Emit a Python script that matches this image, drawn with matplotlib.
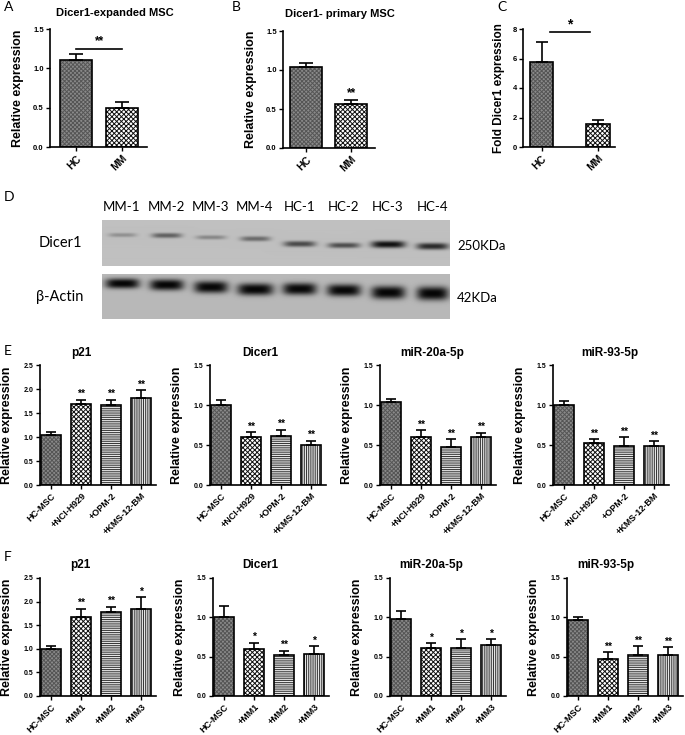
import numpy as np
import matplotlib
matplotlib.use('agg')
from matplotlib import pyplot as plt

W, H = 685, 735
DPI = 100

# ---------------- data ----------------
ab_groups = ['HC', 'MM']
a_means = [1.10, 0.50]
a_err = [0.08, 0.075]
b_means = [1.04, 0.56]
b_err = [0.045, 0.05]
c_means = [5.77, 1.59]
c_err = [1.34, 0.27]

lanes = ['MM-1', 'MM-2', 'MM-3', 'MM-4', 'HC-1', 'HC-2', 'HC-3', 'HC-4']
dicer1_band = [0.25, 0.50, 0.30, 0.45, 0.62, 0.60, 0.92, 0.78]
actin_band = [0.97, 0.97, 0.96, 0.97, 0.96, 0.96, 0.97, 0.97]

e_groups = ['HC-MSC', '+NCI-H929', '+OPM-2', '+KMS-12-BM']
e_p21 = [1.05, 1.68, 1.66, 1.82]
e_p21_err = [0.06, 0.10, 0.12, 0.16]
e_dicer1 = [1.00, 0.60, 0.61, 0.50]
e_dicer1_err = [0.067, 0.06, 0.08, 0.055]
e_mir20 = [1.04, 0.60, 0.48, 0.60]
e_mir20_err = [0.03, 0.085, 0.09, 0.055]
e_mir93 = [1.00, 0.53, 0.485, 0.49]
e_mir93_err = [0.055, 0.04, 0.115, 0.055]
e_stars = [['', '**', '**', '**'], ['', '**', '**', '**'],
           ['', '**', '**', '**'], ['', '**', '**', '**']]

f_groups = ['HC-MSC', '+MM1', '+MM2', '+MM3']
f_p21 = [1.00, 1.68, 1.77, 1.85]
f_p21_err = [0.065, 0.17, 0.12, 0.24]
f_dicer1 = [1.01, 0.60, 0.52, 0.53]
f_dicer1_err = [0.13, 0.08, 0.055, 0.105]
f_mir20 = [0.98, 0.615, 0.61, 0.65]
f_mir20_err = [0.105, 0.055, 0.11, 0.075]
f_mir93 = [0.97, 0.475, 0.52, 0.525]
f_mir93_err = [0.04, 0.085, 0.11, 0.095]
f_stars = [['', '**', '**', '*'], ['', '*', '**', '*'],
           ['', '*', '*', '*'], ['', '**', '**', '**']]

gene_titles = ['p21', 'Dicer1', 'miR-20a-5p', 'miR-93-5p']

# ---------------- style ----------------
plt.rcParams['font.family'] = ['Liberation Sans', 'DejaVu Sans']
plt.rcParams['hatch.linewidth'] = 0.7
NARROW = ['Liberation Sans Narrow', 'Liberation Sans', 'DejaVu Sans']
PLAIN = ['Lato', 'DejaVu Sans']

STYLES = {
    'hc': dict(face='#8a8a8a', hatch='xxxxxxxx', hc='#555555'),
    'check': dict(face='white', hatch='xxxxxxx', hc='#111111'),
    'hline': dict(face='white', hatch='---------', hc='#333333'),
    'vline': dict(face='white', hatch='|||||||||', hc='#333333'),
}

fig = plt.figure(figsize=(W / DPI, H / DPI), dpi=DPI)


def px_axes(left, top, width, height):
    return fig.add_axes([left / W, 1 - (top + height) / H, width / W, height / H])


def draw_bars(ax, means, errs, styles, width, capsize):
    x = np.arange(len(means))
    for xi, m, st in zip(x, means, styles):
        s = STYLES[st]
        ax.bar(xi, m, width, color=s['face'], edgecolor=s['hc'], hatch=s['hatch'],
               linewidth=0, zorder=2)
    ax.bar(x, means, width, fill=False, edgecolor='black', linewidth=1.2, zorder=3)
    ax.errorbar(x, means, yerr=[np.zeros(len(errs)), errs], fmt='none', ecolor='black',
                elinewidth=1.2, capsize=capsize, capthick=1.2, zorder=4)


def style_axes(ax, ylim, yticks, fmt, labels, ytick_fs, xtick_fs, ylabel, ylabel_fs, ylabel_x):
    for side in ['top', 'right']:
        ax.spines[side].set_visible(False)
    for side in ['left', 'bottom']:
        ax.spines[side].set_linewidth(1.2)
    ax.set_ylim(*ylim)
    ax.set_yticks(yticks)
    ax.set_yticklabels([fmt % t for t in yticks], fontsize=ytick_fs, fontweight='bold')
    ax.set_xticks(np.arange(len(labels)))
    ax.set_xticklabels(labels, rotation=45, ha='right', rotation_mode='anchor',
                       fontsize=xtick_fs, fontweight='bold')
    ax.tick_params(axis='both', length=3, width=1, pad=1.5)
    ax.set_ylabel(ylabel, fontsize=ylabel_fs, fontweight='bold')
    ax.yaxis.set_label_coords(ylabel_x, 0.5)


def add_stars(ax, means, errs, stars, fs, off):
    for i, (m, e, s) in enumerate(zip(means, errs, stars)):
        if s:
            ax.text(i, m + e + off, s, ha='center', va='bottom', fontsize=fs,
                    fontweight='bold', clip_on=False)


# ---------------- row A-C ----------------
ax = px_axes(50, 29, 97, 118)
draw_bars(ax, a_means, a_err, ['hc', 'check'], 0.69, 5)
ax.set_xlim(-0.56, 1.53)
style_axes(ax, (0, 1.5), [0, 0.5, 1.0, 1.5], '%.1f', ab_groups, 5.5, 7.5,
           'Relative expression', 9, -0.27)
ax.plot([0, 1], [1.25, 1.25], color='black', lw=1.2)
ax.text(0.5, 1.27, '**', ha='center', va='bottom', fontsize=8.5, fontweight='bold')

ax = px_axes(283, 31, 92, 117)
draw_bars(ax, b_means, b_err, ['hc', 'check'], 0.71, 5)
ax.set_xlim(-0.51, 1.53)
style_axes(ax, (0, 1.5), [0, 0.5, 1.0, 1.5], '%.1f', ab_groups, 5.5, 7.5,
           'Relative expression', 9, -0.28)
ax.text(1, b_means[1] + b_err[1] + 0.02, '**', ha='center', va='bottom', fontsize=8.5,
        fontweight='bold')

ax = px_axes(523, 29, 92, 118)
draw_bars(ax, c_means, c_err, ['hc', 'check'], 0.41, 4)
ax.set_xlim(-0.33, 1.3)
style_axes(ax, (0, 8), [0, 2, 4, 6, 8], '%d', ab_groups, 5.5, 7.5,
           'Fold Dicer1 expression', 8.5, -0.2)
ax.plot([0.15, 0.85], [7.77, 7.77], color='black', lw=1.2, clip_on=False)
ax.text(0.5, 7.85, '*', ha='center', va='bottom', fontsize=10, fontweight='bold')

fig.text(115 / W, 1 - 13 / H, 'Dicer1-expanded MSC', ha='center', va='center',
         fontsize=8, fontweight='bold')
fig.text(340 / W, 1 - 14 / H, 'Dicer1- primary MSC', ha='center', va='center',
         fontsize=8, fontweight='bold')
for lab, xx, yy in [('A', 4, 7), ('B', 232, 7), ('C', 497, 7), ('D', 4, 197),
                    ('E', 4, 351), ('F', 4, 557)]:
    fig.text(xx / W, 1 - yy / H, lab, ha='left', va='center', fontsize=10, family=PLAIN)

# ---------------- row D : western blot ----------------
blot_left, blot_w = 102, 348
lane_step = 44.3
lane0 = 122


def band_image(nrows, intens, yc, hh, ww, bg):
    img = np.full((nrows, blot_w), bg)
    cols = np.arange(blot_w)
    rows = np.arange(nrows)
    for i, v in enumerate(intens):
        cx = lane0 - blot_left + i * lane_step
        px = np.exp(-np.abs((cols - cx) / ww[i]) ** 4)
        py = np.exp(-np.abs((rows - yc[i] * nrows) / hh[i]) ** 2.5)
        img = img - v * bg * np.outer(py, px)
    return np.clip(img, 0, 1)


dicer_y = [0.33, 0.34, 0.38, 0.41, 0.52, 0.55, 0.53, 0.57]
dicer_h = [2.0, 2.4, 2.0, 2.4, 2.8, 2.6, 3.4, 3.2]
dicer_w = [14, 15, 15, 15, 16, 16, 17, 16]
actin_y = [0.20, 0.23, 0.28, 0.33, 0.32, 0.35, 0.40, 0.42]
actin_h = [5.0, 5.5, 6.0, 6.0, 6.0, 6.0, 6.5, 6.8]
actin_w = [17, 17, 17, 18, 17, 17, 17, 16]

ax = px_axes(blot_left, 220, blot_w, 46)
ax.imshow(band_image(46, dicer1_band, dicer_y, dicer_h, dicer_w, 0.75), cmap='gray',
          vmin=0, vmax=1, aspect='auto', interpolation='bilinear')
ax.axis('off')
ax = px_axes(blot_left, 274, blot_w, 45)
ax.imshow(band_image(45, actin_band, actin_y, actin_h, actin_w, 0.72), cmap='gray',
          vmin=0, vmax=1, aspect='auto', interpolation='bilinear')
ax.axis('off')

for i, lab in enumerate(lanes):
    fig.text((lane0 + i * lane_step) / W, 1 - 207 / H, lab, ha='center', va='center',
             fontsize=9.5, family=PLAIN)
fig.text(60 / W, 1 - 243 / H, 'Dicer1', ha='center', va='center', fontsize=10.5, family=PLAIN)
fig.text(60 / W, 1 - 297 / H, 'β-Actin', ha='center', va='center', fontsize=10.5, family=PLAIN)
fig.text(457 / W, 1 - 246 / H, '250KDa', ha='left', va='center', fontsize=9.5, family=PLAIN)
fig.text(457 / W, 1 - 298 / H, '42KDa', ha='left', va='center', fontsize=9.5, family=PLAIN)

# ---------------- rows E and F ----------------
bar_styles = ['hc', 'check', 'hline', 'vline']


def gene_row(lefts, top, height, groups, series, errs, stars, title_x, title_y):
    for k in range(4):
        ax = px_axes(lefts[k], top, 116, height)
        draw_bars(ax, series[k], errs[k], bar_styles, 0.67, 3.3)
        ax.set_xlim(-0.38, 3.5)
        if k == 0:
            ylim, yt = (0, 2.5), [0, 0.5, 1.0, 1.5, 2.0, 2.5]
        else:
            ylim, yt = (0, 1.5), [0, 0.5, 1.0, 1.5]
        style_axes(ax, ylim, yt, '%.1f', groups, 5, 6.5, 'Relative expression', 9, -0.235)
        add_stars(ax, series[k], errs[k], stars[k], 7.5, ylim[1] * 0.004)
        fig.text(title_x[k] / W, 1 - title_y / H, gene_titles[k], ha='center', va='center',
                 fontsize=8.5, fontweight='bold', family=NARROW)


gene_row([40, 210, 380, 553], 365, 120, e_groups,
         [e_p21, e_dicer1, e_mir20, e_mir93],
         [e_p21_err, e_dicer1_err, e_mir20_err, e_mir93_err], e_stars,
         [81, 260, 432, 610], 353)
gene_row([40, 213, 390, 567], 578, 118, f_groups,
         [f_p21, f_dicer1, f_mir20, f_mir93],
         [f_p21_err, f_dicer1_err, f_mir20_err, f_mir93_err], f_stars,
         [80, 260, 431, 606], 565)

fig.savefig('out.png', dpi=DPI)
